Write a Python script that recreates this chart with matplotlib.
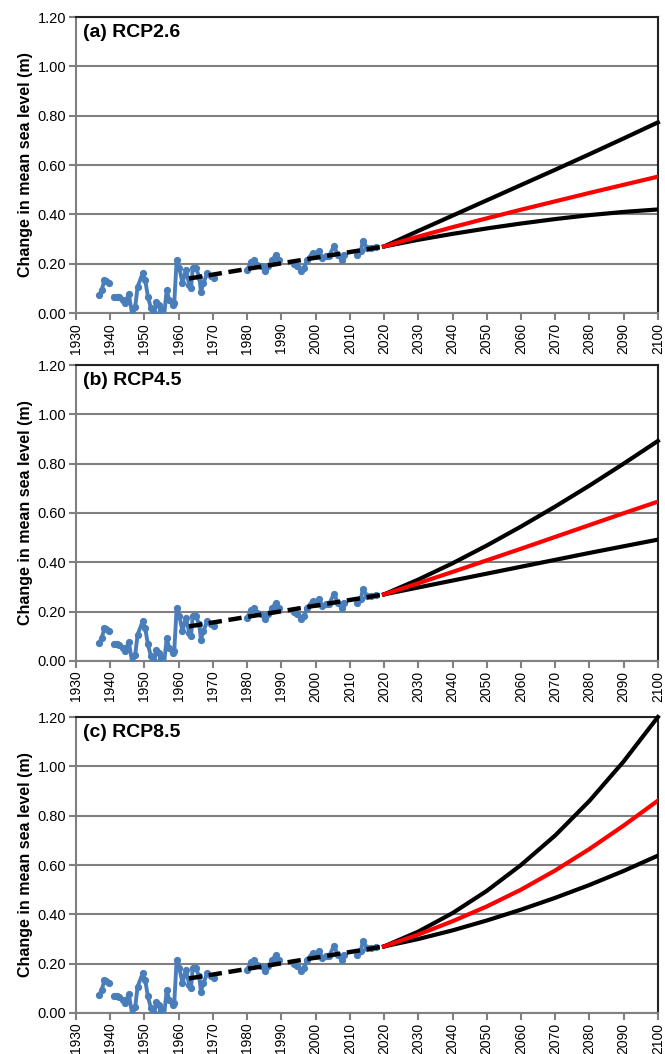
import matplotlib.pyplot as plt
import numpy as np

plt.rcParams['font.family'] = ['Liberation Sans', 'DejaVu Sans']

# observed tide gauge record (gaps as None)
obs_years = [1936.8, 1937.5, 1938.3, 1938.8, 1939.7, None,
             1941.0, 1941.9, 1942.6, 1943.6, 1944.4, 1945.4, 1946.5, 1947.3, 1948.0,
             1949.5, 1950.2, 1951.0, 1951.9, 1952.9, 1953.4, 1954.3, 1954.8, 1955.6,
             1956.5, 1957.2, 1958.2, 1958.7, 1959.4, 1960.2, 1961.1, 1962.1, 1963.1,
             1963.6, 1964.1, 1965.0, 1966.0, 1966.5, 1967.2, 1968.4, 1969.4, 1970.4, None,
             1980.0, 1981.1, 1982.0, 1983.0, 1984.0, 1985.3, 1986.2, 1987.4, 1988.4,
             1989.3, None,
             1993.7, 1994.7, 1995.7, 1996.6, 1997.6, 1999.1, 2000.0, 2001.0, 2002.0,
             2002.9, 2003.9, 2005.4, 2006.4, 2007.6, 2008.3, None,
             2012.2, 2013.2, 2013.8, 2015.1, 2016.1, 2017.5]
obs_vals = [0.073, 0.094, 0.132, 0.128, 0.121, None,
            0.067, 0.067, 0.063, 0.053, 0.042, 0.078, -0.012, 0.026, 0.107,
            0.162, 0.135, 0.067, 0.019, -0.001, 0.046, 0.033, 0.012, -0.029,
            0.094, 0.053, 0.033, 0.039, 0.214, 0.182, 0.121, 0.176, 0.114,
            0.100, 0.182, 0.182, 0.148, 0.087, 0.121, 0.162, 0.151, 0.141, None,
            0.176, 0.205, 0.214, 0.196, 0.189, 0.169, 0.189, 0.216, 0.237,
            0.216, None,
            0.200, 0.189, 0.169, 0.182, 0.216, 0.244, 0.230, 0.250, 0.223,
            0.230, 0.230, 0.273, 0.237, 0.216, 0.237, None,
            0.237, 0.250, 0.291, 0.264, 0.264, 0.268]

# linear trend of the record
trend_years = [1963, 2020]
trend_vals = [0.14, 0.27]

# projections
proj_years = [2020, 2030, 2040, 2050, 2060, 2070, 2080, 2090, 2100]
rcp26_high = [0.27, 0.333, 0.395, 0.457, 0.519, 0.581, 0.644, 0.708, 0.773]
rcp26_mid = [0.27, 0.310, 0.348, 0.384, 0.419, 0.453, 0.487, 0.520, 0.553]
rcp26_low = [0.27, 0.297, 0.321, 0.343, 0.363, 0.381, 0.397, 0.410, 0.420]
rcp45_high = [0.27, 0.330, 0.396, 0.468, 0.545, 0.626, 0.711, 0.800, 0.892]
rcp45_mid = [0.27, 0.315, 0.361, 0.408, 0.455, 0.503, 0.551, 0.599, 0.646]
rcp45_low = [0.27, 0.298, 0.326, 0.354, 0.382, 0.410, 0.438, 0.465, 0.492]
rcp85_high = [0.27, 0.330, 0.405, 0.495, 0.600, 0.720, 0.860, 1.020, 1.200]
rcp85_mid = [0.27, 0.318, 0.372, 0.432, 0.500, 0.578, 0.665, 0.760, 0.861]
rcp85_low = [0.27, 0.300, 0.335, 0.375, 0.419, 0.467, 0.519, 0.576, 0.638]

panels = [('(a) RCP2.6', rcp26_high, rcp26_mid, rcp26_low),
          ('(b) RCP4.5', rcp45_high, rcp45_mid, rcp45_low),
          ('(c) RCP8.5', rcp85_high, rcp85_mid, rcp85_low)]

x_ticks = list(range(1930, 2101, 10))
y_ticks = [0.0, 0.2, 0.4, 0.6, 0.8, 1.0, 1.2]

fig = plt.figure(figsize=(6.65, 10.54), dpi=100)
bottoms = [0.703, 0.3729, 0.0389]

obs_x = np.array([np.nan if v is None else v for v in obs_years], dtype=float)
obs_y = np.array([np.nan if v is None else v for v in obs_vals], dtype=float)

for (title, hi, mid, lo), b in zip(panels, bottoms):
    ax = fig.add_axes([0.1143, b, 0.875, 0.2808])
    ax.set_xlim(1930, 2100)
    ax.set_ylim(0, 1.2)
    ax.set_yticks(y_ticks)
    ax.set_yticklabels(['%.2f' % v for v in y_ticks], fontsize=10.5)
    ax.set_xticks(x_ticks)
    ax.set_xticklabels([str(v) for v in x_ticks], rotation=90, fontsize=10)
    ax.grid(axis='y', color='#808080', linewidth=1.5, zorder=0)
    ax.set_axisbelow(True)
    for s in ['left', 'bottom']:
        ax.spines[s].set_color('#808080')
        ax.spines[s].set_linewidth(1.5)
    ax.spines['top'].set_color('#222222')
    ax.spines['top'].set_linewidth(1.5)
    ax.spines['right'].set_color('#222222')
    ax.spines['right'].set_linewidth(1.5)
    ax.tick_params(axis='both', direction='out', length=5, width=1.5, color='#808080', pad=2)

    ax.plot(obs_x, obs_y, color='#4a7ebb', linewidth=2.8, marker='o', markersize=4.2,
            solid_joinstyle='round', zorder=3)
    ax.plot(trend_years, trend_vals, color='black', linewidth=3.2, linestyle=(0, (3, 1.5)), zorder=4)
    ax.plot(proj_years, hi, color='black', linewidth=3.0, solid_joinstyle='round', zorder=4, clip_on=False)
    ax.plot(proj_years, lo, color='black', linewidth=3.0, solid_joinstyle='round', zorder=4)
    ax.plot(proj_years, mid, color='red', linewidth=3.0, solid_joinstyle='round', zorder=5)

    ax.text(0.012, 0.975, title, transform=ax.transAxes, fontsize=14, fontweight='bold',
            va='top', ha='left')
    ax.set_ylabel('Change in mean sea level (m)', fontsize=11.5, fontweight='bold', labelpad=3)

fig.savefig('out.png', dpi=100)
